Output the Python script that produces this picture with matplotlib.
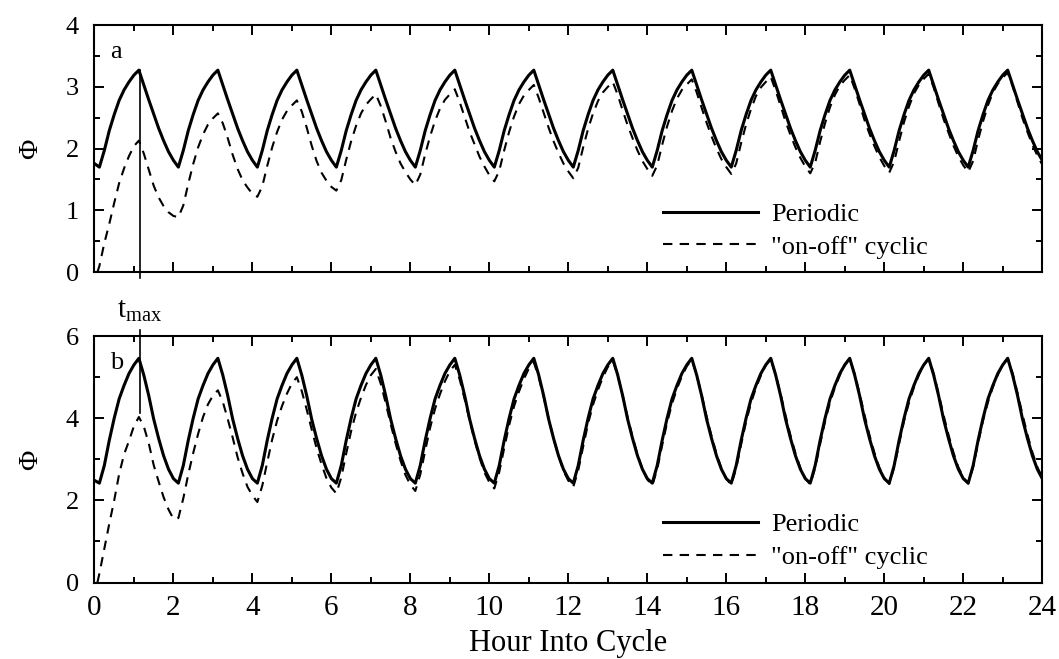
import matplotlib.pyplot as plt
import numpy as np
from matplotlib.ticker import MultipleLocator

plt.rcParams['font.family'] = ['Liberation Serif', 'DejaVu Serif']
plt.rcParams['mathtext.default'] = 'regular'

# sample times (h): minimum of the periodic curve at 0.13 h, then every 0.125 h
hours = np.round(np.arange(0.13, 24.14, 0.125), 3)

# periodic curve, one 2 h cycle (same for every cycle)
periodic_a_start = 1.76
periodic_a_cycle = [1.70, 1.97, 2.29, 2.55, 2.78, 2.95, 3.08, 3.19,
                    3.27, 3.03, 2.79, 2.56, 2.33, 2.13, 1.95, 1.81]
periodic_b_start = 2.49
periodic_b_cycle = [2.42, 2.85, 3.46, 4.00, 4.47, 4.80, 5.09, 5.30,
                    5.46, 5.05, 4.55, 3.98, 3.51, 3.09, 2.76, 2.53]

# "on-off" cyclic curve, one row per cycle, starts from 0 at 0.08 h
onoff_a = [
    [0.10, 0.47, 0.78, 1.12, 1.44, 1.68, 1.88, 2.04, 2.13, 1.92, 1.66, 1.40, 1.21, 1.07, 0.97, 0.91],
    [0.89, 1.08, 1.43, 1.75, 2.02, 2.23, 2.39, 2.49, 2.57, 2.41, 2.17, 1.90, 1.67, 1.49, 1.37, 1.27],
    [1.22, 1.39, 1.72, 2.02, 2.27, 2.47, 2.61, 2.70, 2.78, 2.60, 2.34, 2.05, 1.80, 1.61, 1.48, 1.38],
    [1.32, 1.49, 1.82, 2.12, 2.37, 2.57, 2.71, 2.80, 2.88, 2.69, 2.44, 2.17, 1.95, 1.76, 1.62, 1.50],
    [1.41, 1.58, 1.91, 2.20, 2.45, 2.65, 2.79, 2.88, 2.96, 2.75, 2.51, 2.27, 2.07, 1.87, 1.71, 1.57],
    [1.47, 1.64, 1.97, 2.27, 2.52, 2.72, 2.86, 2.95, 3.03, 2.82, 2.58, 2.34, 2.12, 1.93, 1.76, 1.63],
    [1.52, 1.69, 2.02, 2.32, 2.57, 2.77, 2.91, 3.00, 3.08, 2.87, 2.62, 2.38, 2.17, 1.97, 1.80, 1.67],
    [1.56, 1.73, 2.06, 2.36, 2.61, 2.81, 2.95, 3.04, 3.12, 2.91, 2.66, 2.42, 2.20, 2.00, 1.83, 1.70],
    [1.59, 1.76, 2.09, 2.39, 2.64, 2.85, 2.99, 3.08, 3.16, 2.94, 2.69, 2.44, 2.22, 2.02, 1.85, 1.71],
    [1.60, 1.77, 2.11, 2.41, 2.67, 2.87, 3.02, 3.11, 3.19, 2.97, 2.72, 2.46, 2.24, 2.04, 1.86, 1.72],
    [1.61, 1.79, 2.12, 2.43, 2.68, 2.89, 3.03, 3.13, 3.21, 2.99, 2.73, 2.48, 2.26, 2.05, 1.87, 1.73],
    [1.62, 1.80, 2.14, 2.44, 2.70, 2.91, 3.05, 3.15, 3.23, 3.01, 2.75, 2.49, 2.27, 2.06, 1.89, 1.74],
]
onoff_a_end = 1.63
onoff_b = [
    [0.22, 0.82, 1.43, 2.00, 2.64, 3.12, 3.45, 3.81, 4.03, 3.80, 3.39, 2.86, 2.46, 2.08, 1.78, 1.55],
    [1.57, 2.05, 2.63, 3.15, 3.62, 4.03, 4.34, 4.55, 4.68, 4.40, 3.98, 3.53, 3.05, 2.66, 2.33, 2.12],
    [1.96, 2.36, 2.93, 3.48, 3.94, 4.30, 4.60, 4.85, 5.00, 4.66, 4.21, 3.73, 3.27, 2.88, 2.54, 2.31],
    [2.17, 2.56, 3.14, 3.69, 4.14, 4.50, 4.81, 5.05, 5.20, 4.84, 4.37, 3.86, 3.39, 2.97, 2.62, 2.38],
    [2.23, 2.63, 3.21, 3.77, 4.23, 4.59, 4.90, 5.15, 5.30, 4.94, 4.46, 3.95, 3.46, 3.04, 2.68, 2.44],
    [2.29, 2.69, 3.27, 3.83, 4.29, 4.65, 4.96, 5.21, 5.36, 5.00, 4.51, 4.00, 3.51, 3.09, 2.72, 2.48],
    [2.33, 2.73, 3.31, 3.87, 4.33, 4.69, 5.00, 5.25, 5.40, 5.04, 4.55, 4.03, 3.55, 3.12, 2.76, 2.51],
    [2.36, 2.76, 3.34, 3.89, 4.35, 4.72, 5.02, 5.27, 5.42, 5.06, 4.57, 4.05, 3.57, 3.14, 2.78, 2.53],
    [2.38, 2.78, 3.36, 3.91, 4.37, 4.74, 5.04, 5.29, 5.44, 5.07, 4.59, 4.07, 3.58, 3.15, 2.79, 2.54],
    [2.39, 2.79, 3.37, 3.92, 4.38, 4.75, 5.05, 5.30, 5.45, 5.08, 4.60, 4.08, 3.59, 3.16, 2.80, 2.55],
    [2.40, 2.80, 3.38, 3.93, 4.38, 4.75, 5.05, 5.30, 5.45, 5.09, 4.60, 4.08, 3.60, 3.17, 2.81, 2.56],
    [2.41, 2.81, 3.39, 3.94, 4.39, 4.76, 5.06, 5.31, 5.46, 5.09, 4.61, 4.09, 3.60, 3.17, 2.81, 2.56],
]
onoff_b_end = 2.41

t_max = 1.15
peak_a = 3.27
onoff_peak_b = 4.12

n_cycles = len(onoff_a)
t_periodic = np.concatenate([[0.0], hours])
t_onoff = np.concatenate([[0.08], hours])
per_a = np.concatenate([[periodic_a_start], np.tile(periodic_a_cycle, n_cycles), [periodic_a_cycle[0]]])
per_b = np.concatenate([[periodic_b_start], np.tile(periodic_b_cycle, n_cycles), [periodic_b_cycle[0]]])
on_a = np.concatenate([[0.0], np.ravel(onoff_a), [onoff_a_end]])
on_b = np.concatenate([[0.0], np.ravel(onoff_b), [onoff_b_end]])

fig = plt.figure(figsize=(10.59, 6.59), dpi=100)
ax_a = fig.add_axes([0.089, 0.587, 0.895, 0.375])
ax_b = fig.add_axes([0.089, 0.116, 0.895, 0.374])

panels = [(ax_a, per_a, on_a, 4, 1, 0.5, 'a'), (ax_b, per_b, on_b, 6, 2, 1, 'b')]
for ax, per, on, ymax, ymaj, ymin, lab in panels:
    ax.plot(t_periodic, per, color='black', lw=2.2, label='Periodic')
    ax.plot(t_onoff, on, color='black', lw=1.5, linestyle=(0, (4.5, 3.5)), label='"on-off" cyclic')
    ax.set_xlim(0, 24)
    ax.set_ylim(0, ymax)
    ax.xaxis.set_major_locator(MultipleLocator(2))
    ax.xaxis.set_minor_locator(MultipleLocator(1))
    ax.yaxis.set_major_locator(MultipleLocator(ymaj))
    ax.yaxis.set_minor_locator(MultipleLocator(ymin))
    ax.tick_params(which='both', direction='in', top=True, right=True, width=1.4)
    ax.tick_params(which='major', length=7)
    ax.tick_params(which='minor', length=4)
    ax.tick_params(axis='y', labelsize=19, pad=11)
    ax.tick_params(axis='x', labelsize=21, pad=9)
    for s in ax.spines.values():
        s.set_linewidth(1.5)
    ax.set_ylabel('Φ', fontsize=20, labelpad=16)
    ax.text(0.017, 0.89, lab, transform=ax.transAxes, fontsize=19, va='center', ha='left')
    ax.legend(loc='lower left', bbox_to_anchor=(0.6, 0.055), frameon=False, fontsize=19,
              handlelength=3.6, handletextpad=0.5, labelspacing=0.35, borderpad=0, borderaxespad=0)

ax_a.tick_params(axis='x', labelbottom=False)
ax_b.set_xlabel('Hour Into Cycle', fontsize=22, labelpad=6)

# t_max marker lines
ax_a.plot([t_max, t_max], [-0.1, peak_a], color='black', lw=1.2, clip_on=False)
ax_b.plot([t_max, t_max], [onoff_peak_b, 6.15], color='black', lw=1.2, clip_on=False)
ax_b.text(t_max, 6.6, r'$t_{max}$', ha='center', va='center', fontsize=21)

fig.savefig('out.png', dpi=100)
